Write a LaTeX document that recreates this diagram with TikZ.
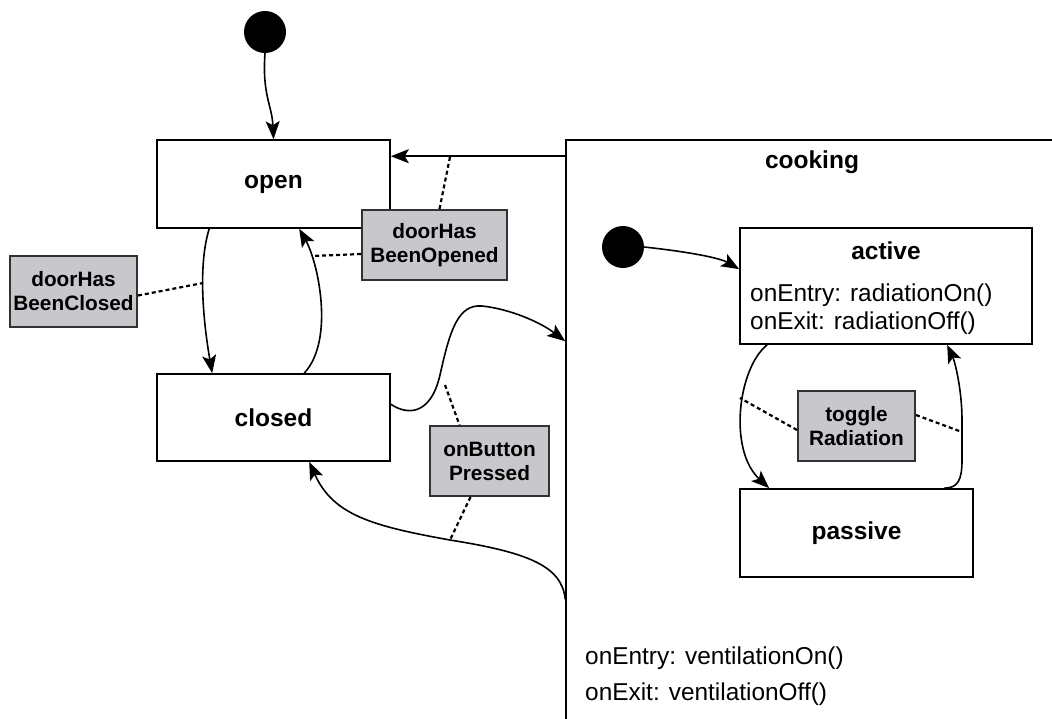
\documentclass[tikz,border=0pt]{standalone}
\usepackage{fontspec}
\setmainfont{Liberation Sans}
\usetikzlibrary{arrows.meta}
\definecolor{notefill}{RGB}{200,199,204}
\definecolor{notedraw}{RGB}{50,50,50}
\tikzset{
  state/.style={draw, line width=1.6pt, rectangle, inner sep=0pt, font=\fontsize{24.5}{28}\selectfont\bfseries},
  note/.style={draw=notedraw, fill=notefill, line width=2pt, rectangle, inner sep=0pt, align=center, font=\fontsize{20.8}{24}\selectfont\bfseries},
  initial/.style={circle, fill=black, minimum size=42pt, inner sep=0pt},
  arr/.style={line width=1.6pt, -{Stealth[length=18pt,width=14pt,inset=4pt]}},
  link/.style={line width=2.2pt, dash pattern=on 4pt off 3pt},
  plain/.style={font=\fontsize{24.4}{28}\selectfont, inner sep=0pt, anchor=west},
}
\begin{document}
\begin{tikzpicture}[x=1pt,y=-1pt]
\useasboundingbox (0,0) rectangle (1052,718);
\clip (0,0) rectangle (1052,718);
% states
\node[initial] (init) at (265,32) {};
\node[state, minimum width=233pt, minimum height=88pt] (open) at (273.5,184) {open};
\node[state, minimum width=233pt, minimum height=87pt] (closed) at (273.5,417.5) {closed};
\node[draw, line width=1.6pt, rectangle, minimum width=504pt, minimum height=600pt, inner sep=0pt] (cooking) at (818,440) {};
\node[font=\fontsize{24.5}{28}\selectfont\bfseries, inner sep=0pt] (cookinglabel) at (812,162) {cooking};
\node[initial] (init2) at (623,247) {};
\node[draw, line width=1.6pt, rectangle, minimum width=292pt, minimum height=116pt, inner sep=0pt] (active) at (886,286) {};
\node[font=\fontsize{24.5}{28}\selectfont\bfseries, inner sep=0pt] (activelabel) at (886,251) {active};
\node[plain] (aentry) at (750,295) {onEntry: radiationOn()};
\node[plain] (aexit) at (750,323) {onExit: radiationOff()};
\node[state, minimum width=233pt, minimum height=88pt] (passive) at (856.5,533) {passive};
\node[plain] (ventry) at (585,658) {onEntry: ventilationOn()};
\node[plain] (vexit) at (585,694) {onExit: ventilationOff()};
% notes
\node[note, minimum width=145pt, minimum height=70pt] (dho) at (434.5,245) {doorHas\\BeenOpened};
\node[note, minimum width=127pt, minimum height=71pt] (dhc) at (73.5,291.5) {doorHas\\BeenClosed};
\node[note, minimum width=119pt, minimum height=70pt] (obp) at (489.5,461) {onButton\\Pressed};
\node[note, minimum width=117pt, minimum height=70pt] (tr) at (856.5,426) {toggle\\Radiation};
% transitions
\draw[arr] (init.south) .. controls (262,95) and (272,105) .. (open.north);
\draw[arr] ([yshift=-17pt]cooking.north west) -- ([yshift=-17pt]open.north east);
\coordinate (c1) at (450,157);
\draw[link] (c1) -- ([xshift=5pt]dho.north);
\draw[arr] ([xshift=53pt]open.south west) .. controls (198,265) and (203,320) .. ([xshift=56pt]closed.north west);
\coordinate (c2) at (203,283);
\draw[link] ([yshift=-4pt]dhc.east) -- (c2);
\draw[arr] ([xshift=148pt]closed.north west) .. controls (335,340) and (318,262) .. ([xshift=143pt]open.south west);
\coordinate (c3) at (312,256);
\draw[link] ([yshift=-9pt]dho.west) -- (c3);
\draw[arr] ([yshift=-31pt]closed.north east) .. controls (405,414) and (430,418) .. (440,375)
   .. controls (450,330) and (458,304) .. (482,306)
   .. controls (510,309) and (540,322) .. ([yshift=-202pt]cooking.north west);
\coordinate (c4) at (445,385);
\draw[link] (c4) -- ([xshift=-30pt]obp.north);
\draw[arr] ([yshift=-460pt]cooking.north west) .. controls (562,565) and (525,552) .. (450,540)
   .. controls (372,526) and (333,515) .. ([xshift=153pt]closed.south west);
\coordinate (c5) at (450,540);
\draw[link] ([xshift=-19pt]obp.south) -- (c5);
\draw[arr] (init2.east) .. controls (690,252) and (720,258) .. ([yshift=-42pt]active.north west);
\draw[arr] ([xshift=28pt]active.south west) .. controls (738,368) and (728,450) .. ([xshift=30pt]passive.north west);
\coordinate (c6) at (740,398);
\draw[link] ([yshift=-4pt]tr.west) -- (c6);
\draw[arr] ([xshift=205pt]passive.north west) .. controls (958,488) and (962,480) .. (962,460)
   -- (962,420) .. controls (962,390) and (955,362) .. ([xshift=208pt]active.south west);
\coordinate (c7) at (962,432);
\draw[link] ([yshift=11pt]tr.east) -- (c7);
\end{tikzpicture}
\end{document}
